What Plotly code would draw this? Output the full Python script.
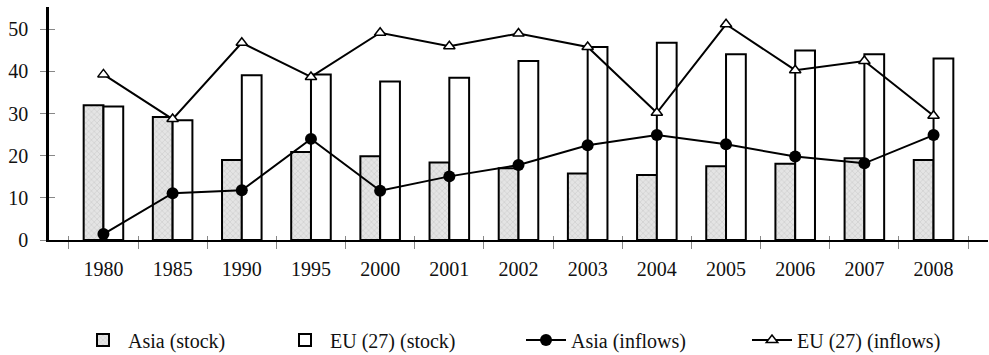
import plotly.graph_objects as go

years = ["1980", "1985", "1990", "1995", "2000", "2001", "2002", "2003",
         "2004", "2005", "2006", "2007", "2008"]
asia_stock = [32.0, 29.2, 19.0, 20.9, 19.9, 18.4, 17.0, 15.8, 15.4, 17.5, 18.1, 19.4, 19.0]
eu_stock = [31.7, 28.4, 39.1, 39.3, 37.6, 38.5, 42.5, 45.8, 46.8, 44.1, 45.0, 44.1, 43.1]
asia_inflows = [1.4, 11.1, 11.8, 24.0, 11.7, 15.1, 17.8, 22.5, 24.9, 22.7, 19.8, 18.2, 24.9]
eu_inflows = [39.3, 28.7, 46.8, 38.7, 49.2, 46.0, 49.0, 45.8, 30.2, 51.2, 40.3, 42.5, 29.5]
y_ticks = [0, 10, 20, 30, 40, 50]

FONT = "Liberation Serif"
W, H = 989, 355

fig = go.Figure()
fig.add_trace(go.Bar(
    x=years, y=asia_stock, name="Asia (stock)", legend="legend",
    marker=dict(color="#e4e4e4", line=dict(color="black", width=2),
                pattern=dict(shape="x", fgcolor="#a8a8a8", bgcolor="#e4e4e4",
                             size=4, solidity=0.25)),
))
fig.add_trace(go.Bar(
    x=years, y=eu_stock, name="EU (27) (stock)", legend="legend2",
    marker=dict(color="white", line=dict(color="black", width=2)),
))
fig.add_trace(go.Scatter(
    x=years, y=asia_inflows, name="Asia (inflows)", mode="lines+markers",
    legend="legend3",
    line=dict(color="black", width=2),
    marker=dict(symbol="circle", size=12, color="black"),
))
fig.add_trace(go.Scatter(
    x=years, y=eu_inflows, name="EU (27) (inflows)", mode="lines+markers",
    legend="legend4",
    line=dict(color="black", width=2),
    marker=dict(symbol="triangle-up", size=10, color="white",
                line=dict(color="black", width=1.5)),
))
# invisible helper trace for the inner half of the cross tick marks
fig.add_trace(go.Scatter(
    x=years, y=asia_inflows, xaxis="x2", yaxis="y2", mode="markers",
    marker=dict(opacity=0), showlegend=False, hoverinfo="skip",
))


def leg(px_left):
    return dict(orientation="h", xref="container", x=px_left / W, xanchor="left",
                yref="container", y=1 - 340 / H, yanchor="middle",
                font=dict(family=FONT, size=20, color="#111"),
                itemwidth=40, bgcolor="rgba(0,0,0,0)", borderwidth=0)


fig.update_layout(
    width=W, height=H,
    margin=dict(l=49, r=1, t=7, b=115, autoexpand=False),
    paper_bgcolor="white", plot_bgcolor="white",
    barmode="group", bargap=0.428, bargroupgap=0,
    font=dict(family=FONT, size=20, color="#111"),
    showlegend=True,
    legend=leg(78), legend2=leg(280), legend3=leg(521), legend4=leg(747),
    xaxis=dict(type="category", categoryorder="array", categoryarray=years,
               showline=True, linecolor="black", linewidth=1.5, automargin=False,
               ticks="outside", tickson="boundaries", ticklen=7, tickcolor="#888",
               tickwidth=1, showgrid=False, zeroline=False,
               ticklabelstandoff=10, tickfont=dict(family=FONT, size=20, color="#111")),
    xaxis2=dict(type="category", categoryorder="array", categoryarray=years,
                overlaying="x", matches="x", showline=False, ticks="inside",
                tickson="boundaries", ticklen=4, tickcolor="#888", tickwidth=1,
                showticklabels=False, showgrid=False, zeroline=False, automargin=False),
    yaxis=dict(range=[0, 55.3], tickvals=y_ticks, showline=True, linecolor="black",
               linewidth=2.5, ticks="outside", ticklen=6, tickcolor="#888",
               tickwidth=1, showgrid=False, zeroline=False, automargin=False,
               ticklabelstandoff=8, tickfont=dict(family=FONT, size=20, color="#111")),
    yaxis2=dict(range=[0, 55.3], tickvals=y_ticks, overlaying="y", side="left",
                showline=False, ticks="inside", ticklen=6, tickcolor="#888",
                tickwidth=1, showticklabels=False, showgrid=False, zeroline=False,
                automargin=False),
)

fig.write_html("out.html", config={"displayModeBar": False},
               post_script="document.body.style.margin='0px';document.body.style.overflow='hidden';")
